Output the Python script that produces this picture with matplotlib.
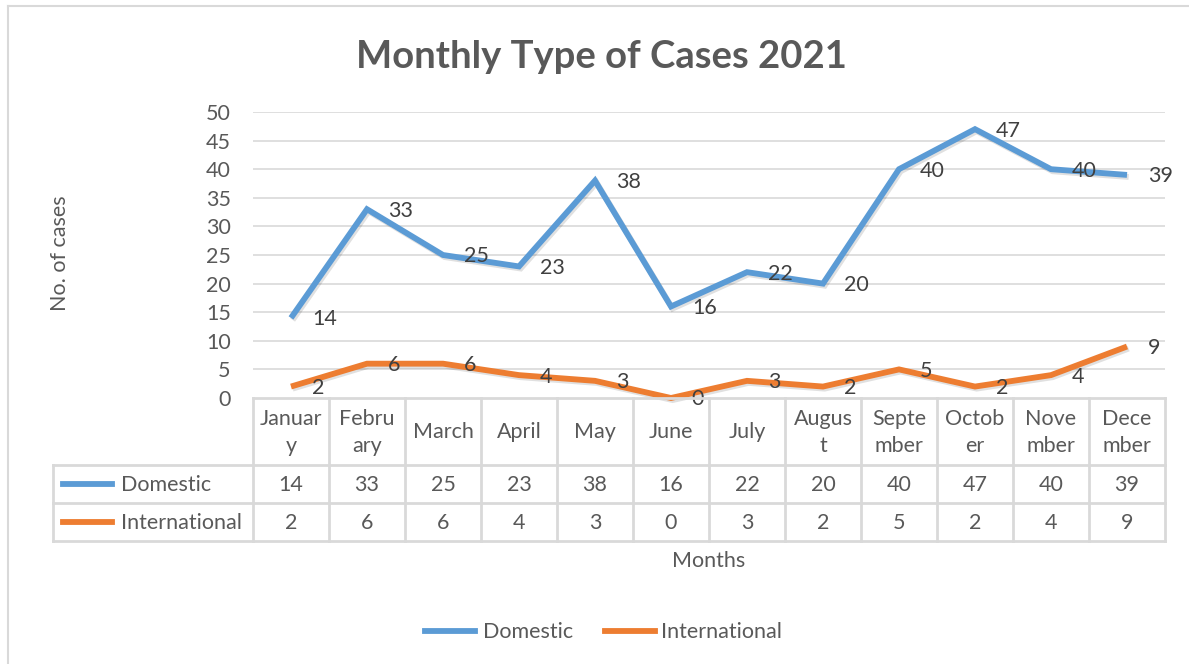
import matplotlib
matplotlib.use("Agg")
from matplotlib import pyplot as plt
from matplotlib import patheffects as pe

months = ["Januar\ny", "Febru\nary", "March", "April", "May", "June", "July",
          "Augus\nt", "Septe\nmber", "Octob\ner", "Nove\nmber", "Dece\nmber"]
domestic = [14, 33, 25, 23, 38, 16, 22, 20, 40, 47, 40, 39]
international = [2, 6, 6, 4, 3, 0, 3, 2, 5, 2, 4, 9]
series_names = ["Domestic", "International"]
y_ticks = [0, 5, 10, 15, 20, 25, 30, 35, 40, 45, 50]

BLUE = "#5B9BD5"
ORANGE = "#ED7D31"
TXT = "#595959"
LBL = "#404040"
GRID = "#D9D9D9"
W, H = 1189, 664
FS = 15.5

plt.rcParams['font.family'] = ['Lato', 'DejaVu Sans']


def fx(px):
    return px / W


def fy(py):
    return 1 - py / H


fig = plt.figure(figsize=(W / 100, H / 100), dpi=100)

# chart border
fig.add_artist(plt.Line2D([fx(8), fx(8)], [fy(6), fy(700)], color=GRID, lw=1.5))
fig.add_artist(plt.Line2D([fx(8), fx(1200)], [fy(6), fy(6)], color=GRID, lw=1.5))

left, right, top, bottom = 253, 1165, 112, 398
ax = fig.add_axes([fx(left), fy(bottom), fx(right) - fx(left), fy(top) - fy(bottom)])
ax.set_xlim(-0.5, len(months) - 0.5)
ax.set_ylim(0, 50)
for s in ax.spines.values():
    s.set_visible(False)
ax.set_yticks(y_ticks)
ax.set_yticklabels([str(t) for t in y_ticks], fontsize=FS, color=TXT)
ax.set_xticks([])
ax.tick_params(axis='y', length=0, pad=16)
for t in y_ticks[1:]:
    ax.axhline(t, color=GRID, lw=1.2, zorder=0)

shadow = [pe.SimpleLineShadow(offset=(1.2, -1.5), alpha=0.12, shadow_color="black"), pe.Normal()]
xs = list(range(len(months)))
for vals, col in [(domestic, BLUE), (international, ORANGE)]:
    ax.plot(xs, vals, color=col, lw=4.2, solid_capstyle='butt', solid_joinstyle='miter',
            path_effects=shadow, clip_on=False, zorder=3)
    for x, v in zip(xs, vals):
        ax.annotate(str(v), (x, v), xytext=(15, -1), textcoords='offset points',
                    ha='left', va='center', fontsize=FS, color=LBL, zorder=4,
                    annotation_clip=False)

# data table
col_w = (right - left) / len(months)
rows = [398, 465, 503, 541]
fig.add_artist(plt.Line2D([fx(left), fx(right)], [fy(rows[0]), fy(rows[0])], color=GRID, lw=2))
for r in rows[1:]:
    fig.add_artist(plt.Line2D([fx(53), fx(right)], [fy(r), fy(r)], color=GRID, lw=2))
for i in range(len(months) + 1):
    x = left + i * col_w
    fig.add_artist(plt.Line2D([fx(x), fx(x)], [fy(rows[0]), fy(rows[3])], color=GRID, lw=2))
fig.add_artist(plt.Line2D([fx(53), fx(53)], [fy(rows[1]), fy(rows[3])], color=GRID, lw=2))

for i, m in enumerate(months):
    cx = left + (i + 0.5) * col_w
    fig.text(fx(cx), fy((rows[0] + rows[1]) / 2 + 1), m, ha='center', va='center',
             fontsize=FS, color=TXT, linespacing=1.4)
    fig.text(fx(cx), fy((rows[1] + rows[2]) / 2 + 1), str(domestic[i]), ha='center',
             va='center', fontsize=FS, color=TXT)
    fig.text(fx(cx), fy((rows[2] + rows[3]) / 2 + 1), str(international[i]), ha='center',
             va='center', fontsize=FS, color=TXT)

for j, (name, col) in enumerate(zip(series_names, [BLUE, ORANGE])):
    yy = (rows[j + 1] + rows[j + 2]) / 2
    fig.add_artist(plt.Line2D([fx(63), fx(112)], [fy(yy), fy(yy)], color=col, lw=4.2))
    fig.text(fx(121), fy(yy + 1), name, ha='left', va='center', fontsize=FS, color=TXT)

# titles and axis labels
fig.text(fx(601), fy(57), "Monthly Type of Cases 2021", ha='center', va='center',
         fontsize=27.5, fontweight='bold', color=TXT)
fig.text(fx(60), fy(253), "No. of cases", ha='center', va='center', rotation=90,
         fontsize=FS, color=TXT)
fig.text(fx(709), fy(561), "Months", ha='center', va='center', fontsize=FS, color=TXT)

# bottom legend
for (x0, x1, tx), name, col in zip([(425, 475, 483), (605, 655, 661)], series_names,
                                   [BLUE, ORANGE]):
    fig.add_artist(plt.Line2D([fx(x0), fx(x1)], [fy(631), fy(631)], color=col, lw=4.2))
    fig.text(fx(tx), fy(632), name, ha='left', va='center', fontsize=FS, color=TXT)

fig.savefig("out.png", dpi=100, facecolor="white")
